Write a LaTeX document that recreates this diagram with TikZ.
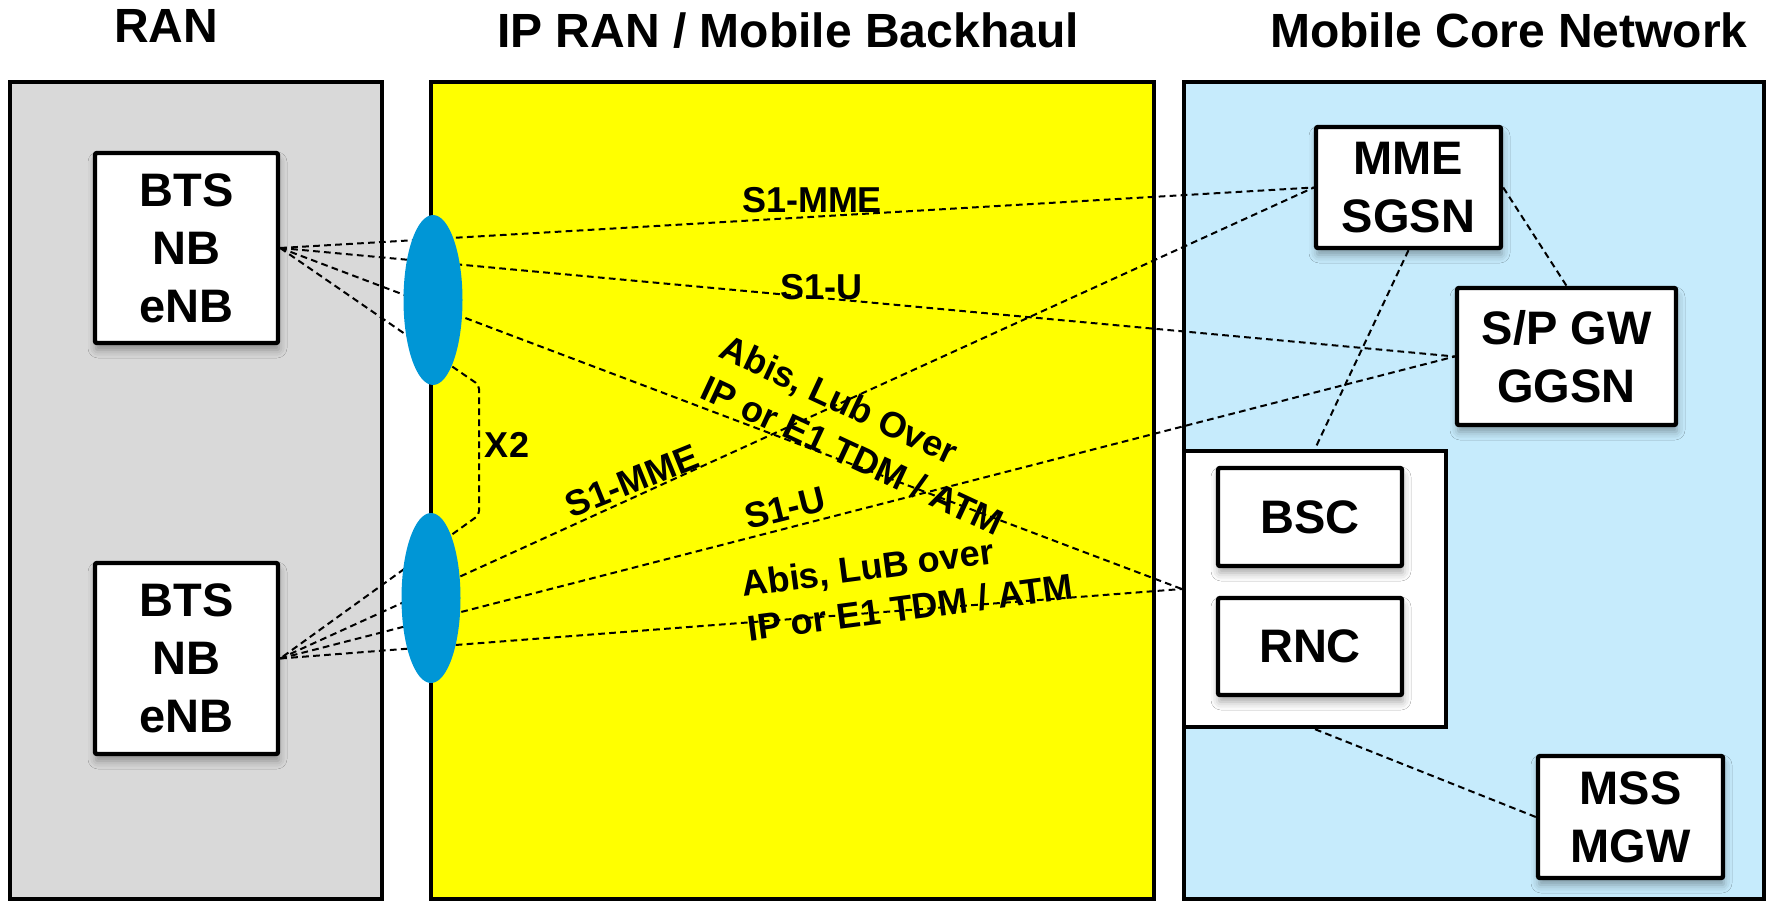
\documentclass[tikz,border=0pt]{standalone}
\usepackage{fontspec}
\setmainfont{Liberation Sans}
\usetikzlibrary{shapes.geometric,shadows.blur,backgrounds}

\definecolor{ranGray}{RGB}{217,217,217}
\definecolor{bhYellow}{RGB}{255,255,0}
\definecolor{coreBlue}{RGB}{198,235,252}
\definecolor{aggBlue}{RGB}{0,150,214}

\begin{document}
\begin{tikzpicture}[x=1pt, y=-1pt,
% common options for the panels:
panel/.style = {draw, line width=4pt},
% common options for the network elements:
block/.style = {draw, fill=white, line width=4.4pt, rounded corners=2pt, align=center,
            inner sep=0, font=\fontsize{47}{58}\selectfont\bfseries,
            blur shadow={shadow xshift=1pt, shadow yshift=-7pt,
                         shadow blur radius=8pt, shadow opacity=35}},
group/.style = {draw, fill=white, line width=4.4pt, inner sep=0},
% aggregation points on the backhaul edge:
agg/.style = {ellipse, fill=aggBlue, minimum width=59pt, minimum height=170pt, inner sep=0},
% dashed links and their labels:
link/.style = {line width=2pt, dash pattern=on 6.7pt off 4.3pt},
tag/.style = {font=\fontsize{36}{45}\selectfont\bfseries, align=left, inner sep=0},
title/.style = {font=\fontsize{48}{58}\selectfont\bfseries, anchor=base}]

\useasboundingbox (0,0) rectangle (1766,901);

% column titles
\node[title] (tRan) at (166,43) {RAN};
\node[title] (tBh) at (788,48) {IP RAN / Mobile Backhaul};
\node[title] (tCore) at (1509,48) {Mobile Core Network};

% RAN side
\node[block, minimum width=183pt, minimum height=190pt] (bts1) at (186.5,248) {BTS\\NB\\eNB};
\node[block, minimum width=183pt, minimum height=191pt] (bts2) at (186.5,658.5) {BTS\\NB\\eNB};
\node[agg] (agg1) at (433,300) {};
\node[agg] (agg2) at (431,598) {};

% core side
\node[block, minimum width=185pt, minimum height=121pt] (mme) at (1408.5,187.5) {MME\\SGSN};
\node[block, minimum width=219pt, minimum height=137pt] (spgw) at (1566.5,356.5) {S/P GW\\GGSN};
\node[group, minimum width=262pt, minimum height=276pt] (ctrl) at (1315,589) {};
\node[block, minimum width=184pt, minimum height=98pt] (bsc) at (1310,517) {BSC};
\node[block, minimum width=184pt, minimum height=97pt] (rnc) at (1310,646.5) {RNC};
\node[block, minimum width=185pt, minimum height=122pt] (mss) at (1630.5,817) {MSS\\MGW};

\coordinate (x2top) at (479,385);
\coordinate (x2bot) at (479,515);

% link labels
\node[tag] (l1) at (812,200) {S1-MME};
\node[tag] (l2) at (821,287) {S1-U};
\node[tag, rotate=-25] (l3) at (862,435) {Abis, Lub Over\\IP or E1 TDM / ATM};
\node[tag, rotate=22] (l4) at (632,481) {S1-MME};
\node[tag, rotate=14] (l5) at (785,508) {S1-U};
\node[tag, rotate=7.5] (l6) at (907,585) {Abis, LuB over\\IP or E1 TDM / ATM};
\node[tag] (lx2) at (507,445) {X2};

\begin{pgfonlayer}{background}
\draw[panel, fill=ranGray] (10,82) rectangle (382,899);
\draw[panel, fill=bhYellow] (431,82) rectangle (1154,899);
\draw[panel, fill=coreBlue] (1184,82) rectangle (1764,899);

\draw[link] (bts1.east) -- (mme.west);
\draw[link] (bts1.east) -- (spgw.west);
\draw[link] (bts1.east) -- (ctrl.west);
\draw[link] (bts2.east) -- (mme.west);
\draw[link] (bts2.east) -- (spgw.west);
\draw[link] (bts2.east) -- (ctrl.west);
\draw[link, rounded corners=4pt] (bts1.east) -- (x2top) -- (x2bot) -- (bts2.east);
\draw[link] (mme.south) -- (ctrl.north);
\draw[link] (mme.east) -- (spgw.north);
\draw[link] (ctrl.south) -- (mss.west);
\end{pgfonlayer}
\end{tikzpicture}
\end{document}
